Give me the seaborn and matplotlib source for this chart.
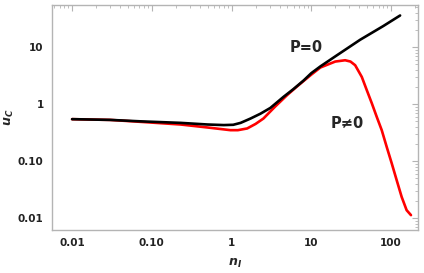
import numpy as np
import pandas as pd
import matplotlib
matplotlib.use("Agg")
import matplotlib.pyplot as plt
import seaborn as sns
from matplotlib.ticker import FixedLocator, NullFormatter, LogLocator

# ---- data ----
n_black = [0.01, 0.03, 0.072, 0.23, 0.5, 0.8, 1.05, 1.3, 1.73, 2.3, 3.07, 4.47, 6, 8, 10, 13, 20, 41, 80, 130]
u_black = [0.546, 0.53, 0.50, 0.47, 0.44, 0.43, 0.435, 0.47, 0.56, 0.68, 0.86, 1.34, 1.85, 2.6, 3.5, 4.6, 6.9, 13.5, 23.5, 36]

n_red = [0.01, 0.03, 0.072, 0.23, 0.5, 0.97, 1.2, 1.57, 2.0, 2.51, 3.5, 4.97, 6.5, 8, 10, 13, 20, 26.6, 31, 35.5, 43, 49.7, 57.4, 66.2, 76.5, 88.3, 102, 118, 136, 157, 178]
u_red = [0.546, 0.53, 0.49, 0.44, 0.39, 0.35, 0.35, 0.375, 0.45, 0.56, 0.9, 1.44, 2.0, 2.55, 3.3, 4.4, 5.6, 5.9, 5.6, 4.83, 3.01, 1.76, 1.04, 0.60, 0.35, 0.178, 0.092, 0.046, 0.0236, 0.0138, 0.0113]

x_ticks = [0.01, 0.1, 1, 10, 100]
x_ticklabels = ["0.01", "0.10", "1", "10", "100"]
y_ticks = [0.01, 0.1, 1, 10]
y_ticklabels = ["0.01", "0.10", "1", "10"]

df = pd.concat([
    pd.DataFrame({"n": n_red, "u": u_red, "case": "P≠0"}),
    pd.DataFrame({"n": n_black, "u": u_black, "case": "P=0"}),
])

sns.set_style("white")
plt.rcParams['font.family'] = ['DejaVu Sans']

fig = plt.figure(figsize=(4.24, 2.73), dpi=100)
ax = fig.add_axes([52/424, 1-230/273, (418-52)/424, (230-5)/273])

sns.lineplot(data=df, x="n", y="u", hue="case", hue_order=["P≠0", "P=0"],
             palette={"P≠0": "#ff0000", "P=0": "#000000"}, sort=False,
             linewidth=1.9, legend=False, ax=ax)

ax.set_xscale("log")
ax.set_yscale("log")
ax.set_xlim(0.0056, 218)
ax.set_ylim(0.0062, 55)

frame_col = "#b4b4b4"
for s in ax.spines.values():
    s.set_color(frame_col)
    s.set_linewidth(1.0)
    s.set_visible(True)

ax.xaxis.set_major_locator(FixedLocator(x_ticks))
ax.yaxis.set_major_locator(FixedLocator(y_ticks))
ax.set_xticklabels(x_ticklabels, fontweight="bold", fontsize=7.5)
ax.set_yticklabels(y_ticklabels, fontweight="bold", fontsize=7.5)
ax.xaxis.set_minor_locator(LogLocator(base=10, subs=np.arange(2, 10)))
ax.yaxis.set_minor_locator(LogLocator(base=10, subs=np.arange(2, 10)))
ax.xaxis.set_minor_formatter(NullFormatter())
ax.yaxis.set_minor_formatter(NullFormatter())
ax.tick_params(which="both", direction="in", top=True, right=True, color=frame_col, labelcolor="#222222")
ax.tick_params(which="major", length=4, width=0.8, pad=6)
ax.tick_params(which="minor", length=2, width=0.6)

ax.set_xlabel(r"$\mathbfit{n}_{\mathbfit{I}}$", fontsize=9, labelpad=6)
ax.set_ylabel(r"$\mathbfit{u}_{\mathbfit{C}}$", fontsize=9)
ax.yaxis.set_label_coords(-0.098, 0.5)

ax.text(8.7, 10, "P=0", fontsize=10.5, fontweight="bold", ha="center", va="center")
ax.text(28, 0.46, "P≠0", fontsize=10.5, fontweight="bold", ha="center", va="center")

fig.savefig("out.png", dpi=100)
